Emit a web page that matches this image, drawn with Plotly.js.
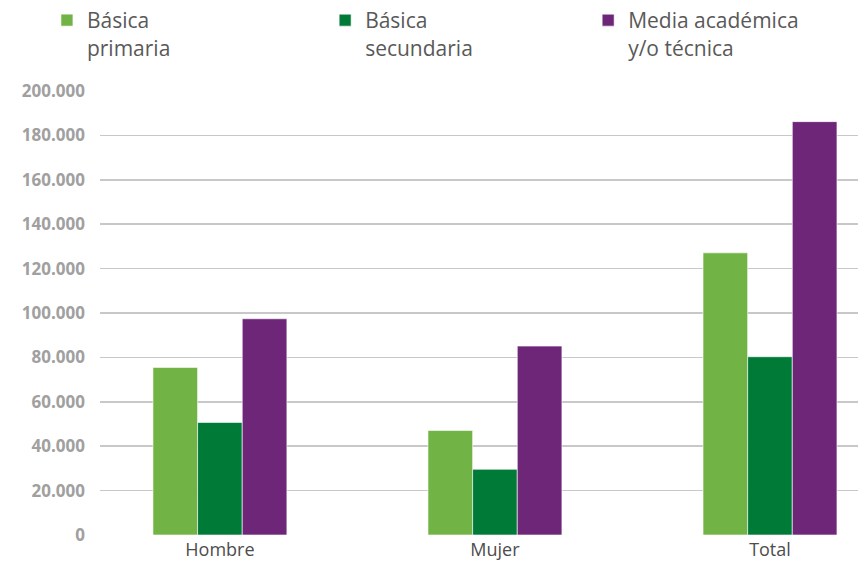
<!DOCTYPE html>
<html><head><meta charset="utf-8">
<script src="https://cdn.plot.ly/plotly-3.0.1.min.js"></script>
<style>body{margin:0;background:#fff}#c{width:858px;height:564px}</style>
</head><body><div id="c"></div>
<script>
const categories = ["Hombre", "Mujer", "Total"];
const seriesNames = ["Básica<br>primaria", "Básica<br>secundaria", "Media académica<br>y/o técnica"];
const primaria = [75500, 47100, 127100];
const secundaria = [50700, 29600, 80300];
const media = [97400, 85100, 186200];
const yTicks = [0, 20000, 40000, 60000, 80000, 100000, 120000, 140000, 160000, 180000, 200000];
const colors = ["#72b345", "#007a37", "#6d2678"];
const values = [primaria, secundaria, media];
const legendIds = ['legend', 'legend2', 'legend3'];
const legendX = [-0.070, 0.297, 0.644];

const traces = values.map((v, i) => ({
  type: 'bar', x: categories, y: v, name: seriesNames[i], legend: legendIds[i],
  marker: {color: colors[i], line: {color: 'rgba(255,255,255,0.6)', width: 1}},
  hoverinfo: 'y'
}));

const legendBase = {
  orientation: 'h', xanchor: 'left', y: 1.205, yanchor: 'top', valign: 'top',
  font: {size: 21, color: '#595959', family: 'Open Sans'},
  itemclick: false, bgcolor: 'rgba(0,0,0,0)'
};

const layout = {
  width: 858, height: 564,
  margin: {l: 100, r: 0, t: 91, b: 29, autoexpand: false},
  paper_bgcolor: '#fff', plot_bgcolor: '#fff',
  separators: ',.',
  barmode: 'group', bargap: 0.513, bargroupgap: 0,
  font: {family: 'Open Sans, sans-serif', color: '#595959'},
  xaxis: {
    type: 'category', range: [-0.436, 2.32], showgrid: false, zeroline: false,
    showline: false, ticks: '', tickfont: {size: 18, color: '#4d4d4d', family: 'Open Sans'},
    ticklabelstandoff: 2
  },
  yaxis: {
    range: [0, 200000], tickvals: yTicks, tickformat: ',d',
    showgrid: true, gridcolor: '#c8c8c8', gridwidth: 1.5, zeroline: false,
    showline: false, ticks: '', ticklabelstandoff: 14,
    tickfont: {size: 17, color: '#a0a0a0', family: 'Open Sans', weight: 'bold'}
  },
  showlegend: true
};
legendIds.forEach((id, i) => { layout[id] = Object.assign({}, legendBase, {x: legendX[i]}); });
Plotly.newPlot('c', traces, layout, {displayModeBar: false, staticPlot: true});
</script></body></html>
